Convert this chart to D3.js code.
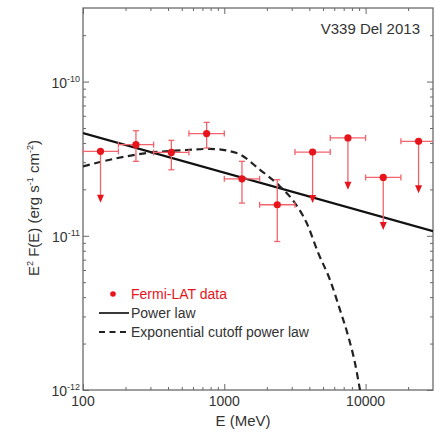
<!DOCTYPE html>
<html>
<head lang="en">
    <meta charset="UTF-8">
    <title>V339 Del 2013</title>
    <script src="https://cdn.jsdelivr.net/npm/d3@7/dist/d3.min.js"></script>
    <style>
        body { margin: 0; background: #fff; }
        svg text { font-family: "Liberation Sans", Arial, Helvetica, sans-serif; fill: #333; }
        .tick line { stroke: #666; }
    </style>
</head>
<body>
<svg id="chart" width="435" height="432"></svg>
<script>
    // bin centre, bin edges (MeV) and E^2 F(E) values
    var energy = [133, 237, 422, 750, 1334, 2371, 4217, 7499, 13335, 23714];
    var eLow   = [100, 178, 316, 562, 1000, 1778, 3162, 5623, 10000, 17783];
    var eHigh  = [178, 316, 562, 1000, 1778, 3162, 5623, 10000, 17783, 31623];
    var flux   = [3.53e-11, 3.90e-11, 3.47e-11, 4.60e-11, 2.34e-11, 1.59e-11, 3.49e-11, 4.31e-11, 2.39e-11, 4.10e-11];
    var fluxHi = [null, 4.80e-11, 4.16e-11, 5.44e-11, 3.04e-11, 2.31e-11, null, null, null, null];
    var fluxLo = [1.64e-11, 3.04e-11, 2.68e-11, 3.71e-11, 1.63e-11, 9.18e-12, 1.63e-11, 1.99e-11, 1.09e-11, 1.89e-11];
    var isLimit = [true, false, false, false, false, false, true, true, true, true];

    // model curves sampled from the figure
    var powerE = [100, 30000];
    var powerF = [4.63e-11, 1.07e-11];
    var cutE = [100, 164, 282, 486, 792, 1224, 1789, 2478, 3164, 3830, 4627, 5598, 6590, 7550, 8420, 9125, 9500];
    var cutF = [2.82e-11, 3.15e-11, 3.44e-11, 3.58e-11, 3.66e-11, 3.44e-11, 2.68e-11, 2.09e-11, 1.63e-11, 1.21e-11,
                7.72e-12, 5.18e-12, 3.31e-12, 2.22e-12, 1.49e-12, 1.0e-12, 0.8e-12];

    var xMajor = [100, 1000, 10000];
    var xLabels = ["100", "1000", "10000"];
    var yMajor = [1e-12, 1e-11, 1e-10];
    var yExp = ["-12", "-11", "-10"];

    var plotL = 83, plotR = 433, plotT = 8, plotB = 390;
    var red = "#e8141c", redLight = "#f2636b";

    var svg = d3.select("#chart");
    var x = d3.scaleLog().domain([100, 30000]).range([plotL, plotR]);
    var y = d3.scaleLog().domain([1e-12, 3e-10]).range([plotB, plotT]);

    function minorTicks(scale) {
        var d = scale.domain(), out = [];
        for (var k = Math.floor(Math.log10(d[0])); k <= Math.ceil(Math.log10(d[1])); k++) {
            for (var m = 2; m <= 9; m++) {
                var v = m * Math.pow(10, k);
                if (v > d[0] && v < d[1]) out.push(v);
            }
        }
        return out;
    }

    // ticks on all four sides, pointing inward
    function drawAxes() {
        var xm = minorTicks(x), ym = minorTicks(y);
        var sides = [
            {ax: d3.axisBottom, s: x, t: "translate(0," + plotB + ")"},
            {ax: d3.axisTop, s: x, t: "translate(0," + plotT + ")"},
            {ax: d3.axisLeft, s: y, t: "translate(" + plotL + ",0)"},
            {ax: d3.axisRight, s: y, t: "translate(" + plotR + ",0)"}
        ];
        sides.forEach(function (o) {
            var isX = o.s === x;
            var g1 = svg.append("g").attr("transform", o.t)
                .call(o.ax(o.s).tickValues(isX ? xMajor : yMajor).tickSize(-6).tickFormat(""));
            var g2 = svg.append("g").attr("transform", o.t)
                .call(o.ax(o.s).tickValues(isX ? xm : ym).tickSize(-3).tickFormat(""));
            g1.select(".domain").remove();
            g2.select(".domain").remove();
        });

        svg.append("rect")
            .attr("x", plotL).attr("y", plotT)
            .attr("width", plotR - plotL).attr("height", plotB - plotT)
            .attr("fill", "none").attr("stroke", "#6a6a6a").attr("stroke-width", 1.3);

        svg.append("g").selectAll("text").data(xMajor).enter().append("text")
            .attr("x", function (d) { return x(d); })
            .attr("y", 406)
            .attr("text-anchor", "middle")
            .style("font-size", "14px")
            .text(function (d, i) { return xLabels[i]; });

        var yl = svg.append("g").selectAll("text").data(yMajor).enter().append("text")
            .attr("x", 80)
            .attr("y", function (d) { return y(d) + 6; })
            .attr("text-anchor", "end")
            .style("font-size", "14px");
        yl.append("tspan").text("10");
        yl.append("tspan").attr("dy", -6).style("font-size", "9px").text(function (d, i) { return yExp[i]; });

        svg.append("text")
            .attr("x", 243).attr("y", 426)
            .attr("text-anchor", "middle")
            .style("font-size", "15px")
            .text("E (MeV)");

        var lab = svg.append("text")
            .attr("transform", "translate(39,208) rotate(-90)")
            .attr("text-anchor", "middle")
            .style("font-size", "15px");
        lab.append("tspan").text("E");
        lab.append("tspan").attr("dy", -6).style("font-size", "9px").text("2");
        lab.append("tspan").attr("dy", 6).text(" F(E) (erg s");
        lab.append("tspan").attr("dy", -6).style("font-size", "9px").text("-1");
        lab.append("tspan").attr("dy", 6).text(" cm");
        lab.append("tspan").attr("dy", -6).style("font-size", "9px").text("-2");
        lab.append("tspan").attr("dy", 6).text(")");
    }

    function drawLines() {
        var line = d3.line()
            .x(function (d) { return x(d[0]); })
            .y(function (d) { return y(d[1]); });

        svg.append("path")
            .attr("clip-path", "url(#plotClip)")
            .attr("d", line(powerE.map(function (e, i) { return [e, powerF[i]]; })))
            .attr("fill", "none").attr("stroke", "#111").attr("stroke-width", 2.2);

        svg.append("path")
            .attr("clip-path", "url(#plotClip)")
            .attr("d", line.curve(d3.curveMonotoneX)(cutE.map(function (e, i) { return [e, cutF[i]]; })))
            .attr("fill", "none").attr("stroke", "#222").attr("stroke-width", 2.2)
            .attr("stroke-dasharray", "7,4.5");
    }

    function drawPoints() {
        var g = svg.append("g").attr("clip-path", "url(#plotClip)");
        var cap = 3;
        energy.forEach(function (e, i) {
            var cx = x(e), cy = y(flux[i]);
            var x0 = x(eLow[i]), x1 = x(eHigh[i]);
            var bar = g.append("g").attr("stroke", redLight).attr("stroke-width", 1.3).attr("fill", "none");
            bar.append("line").attr("x1", x0).attr("x2", x1).attr("y1", cy).attr("y2", cy);
            bar.append("line").attr("x1", x0).attr("x2", x0).attr("y1", cy - cap).attr("y2", cy + cap);
            bar.append("line").attr("x1", x1).attr("x2", x1).attr("y1", cy - cap).attr("y2", cy + cap);

            var yLo = y(fluxLo[i]);
            if (isLimit[i]) {
                bar.append("line").attr("x1", cx).attr("x2", cx).attr("y1", cy).attr("y2", yLo - 6);
                g.append("path")
                    .attr("d", "M" + (cx - 3.5) + "," + (yLo - 8) + "L" + (cx + 3.5) + "," + (yLo - 8) + "L" + cx + "," + yLo + "Z")
                    .attr("fill", red);
            } else {
                var yHi = y(fluxHi[i]);
                bar.append("line").attr("x1", cx).attr("x2", cx).attr("y1", yHi).attr("y2", yLo);
                bar.append("line").attr("x1", cx - cap).attr("x2", cx + cap).attr("y1", yHi).attr("y2", yHi);
                bar.append("line").attr("x1", cx - cap).attr("x2", cx + cap).attr("y1", yLo).attr("y2", yLo);
            }
            g.append("circle").attr("cx", cx).attr("cy", cy).attr("r", 3.6).attr("fill", red);
        });
    }

    function drawLegend() {
        svg.append("circle").attr("cx", 113).attr("cy", 294).attr("r", 2.8).attr("fill", red);
        svg.append("text").attr("x", 131).attr("y", 299).style("font-size", "14px").style("fill", red)
            .text("Fermi-LAT data");
        svg.append("line").attr("x1", 99).attr("x2", 129).attr("y1", 313).attr("y2", 313)
            .attr("stroke", "#222").attr("stroke-width", 1.8);
        svg.append("text").attr("x", 131).attr("y", 318).style("font-size", "14px").text("Power law");
        svg.append("line").attr("x1", 99).attr("x2", 129).attr("y1", 332).attr("y2", 332)
            .attr("stroke", "#222").attr("stroke-width", 1.8).attr("stroke-dasharray", "6,4.5");
        svg.append("text").attr("x", 131).attr("y", 337).style("font-size", "14px").text("Exponential cutoff power law");

        svg.append("text").attr("x", 420).attr("y", 34).attr("text-anchor", "end")
            .style("font-size", "15px").text("V339 Del 2013");
    }

    svg.append("defs").append("clipPath").attr("id", "plotClip")
        .append("rect").attr("x", plotL).attr("y", plotT).attr("width", plotR - plotL).attr("height", plotB - plotT);

    drawAxes();
    drawLines();
    drawPoints();
    drawLegend();
</script>
</body>
</html>
